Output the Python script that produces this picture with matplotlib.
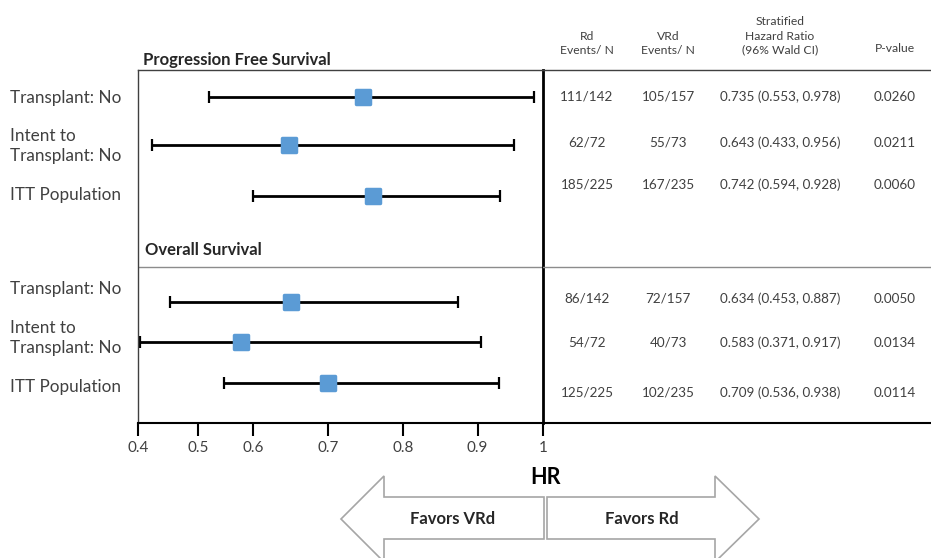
import numpy as np
import matplotlib
matplotlib.use("Agg")
import matplotlib.pyplot as plt
from matplotlib.markers import MarkerStyle
from matplotlib.patches import Polygon

plt.rcParams['font.family'] = ['Lato', 'DejaVu Sans']

# subgroups
row_labels = ['Transplant: No', 'Intent to\nTransplant: No', 'ITT Population',
              'Transplant: No', 'Intent to\nTransplant: No', 'ITT Population']

# hazard ratio and CI limits as drawn (PFS rows first, then OS rows)
hr = np.array([0.747, 0.647, 0.760, 0.650, 0.578, 0.699])
ci_lo = np.array([0.520, 0.423, 0.600, 0.453, 0.402, 0.547])
ci_hi = np.array([0.987, 0.956, 0.935, 0.874, 0.905, 0.933])

# table columns
rd_events = ['111/142', '62/72', '185/225', '86/142', '54/72', '125/225']
vrd_events = ['105/157', '55/73', '167/235', '72/157', '40/73', '102/235']
hr_ci = ['0.735 (0.553, 0.978)', '0.643 (0.433, 0.956)', '0.742 (0.594, 0.928)',
         '0.634 (0.453, 0.887)', '0.583 (0.371, 0.917)', '0.709 (0.536, 0.938)']
p_values = ['0.0260', '0.0211', '0.0060', '0.0050', '0.0134', '0.0114']

headers = ['Rd\nEvents/ N', 'VRd\nEvents/ N',
           'Stratified\nHazard Ratio\n(96% Wald CI)', 'P-value']

hr_ticks = [0.4, 0.5, 0.6, 0.7, 0.8, 0.9, 1.0]
tick_labels = ['0.4', '0.5', '0.6', '0.7', '0.8', '0.9', '1']
# the original axis is not evenly spaced
tick_pos = [0, 0.148, 0.284, 0.470, 0.654, 0.839, 1.0]

# layout (axes fractions)
bar_y = [0.923, 0.786, 0.644, 0.342, 0.228, 0.113]
label_y = [0.921, 0.785, 0.646, 0.380, 0.241, 0.102]
table_y = [0.9235, 0.793, 0.674, 0.351, 0.227, 0.085]
col_x = [0.114, 0.323, 0.611, 0.907]
sep_y = 0.442

text_col = '#404040'
blue = '#5B9BD5'

fig = plt.figure(figsize=(9.31, 5.58), dpi=100)

# arrows at the bottom
bg = fig.add_axes([0, 0, 1, 1])
bg.set_xlim(0, 931)
bg.set_ylim(558, 0)
bg.axis('off')
left_arrow = [(544, 497), (384, 497), (384, 476), (341, 519), (384, 562),
              (384, 539), (544, 539)]
right_arrow = [(547, 497), (715, 497), (715, 476), (759, 519), (715, 562),
               (715, 539), (547, 539)]
for pts in (left_arrow, right_arrow):
    bg.add_patch(Polygon(pts, closed=True, facecolor='white',
                         edgecolor='#A6A6A6', lw=1.2))
bg.text(453, 519, 'Favors VRd', ha='center', va='center', fontsize=12,
        fontweight='bold', color='#262626')
bg.text(642, 519, 'Favors Rd', ha='center', va='center', fontsize=12,
        fontweight='bold', color='#262626')
bg.text(545, 478, 'HR', ha='center', va='center', fontsize=15.5,
        fontweight='bold', color='black')

# forest plot
ax = fig.add_axes([0.1486, 0.2425, 0.4344, 0.6321])
ax.set_xscale('function', functions=(lambda x: np.interp(x, hr_ticks, tick_pos),
                                     lambda t: np.interp(t, tick_pos, hr_ticks)))
ax.set_xlim(0.4, 1.0)
ax.set_ylim(0, 1)

ax.errorbar(hr, bar_y, xerr=[hr - ci_lo, ci_hi - hr], fmt='none',
            ecolor='black', elinewidth=2, capsize=4.5, capthick=1.6, zorder=2)
ax.plot(hr, bar_y, linestyle='none', marker=MarkerStyle('s', joinstyle='round'),
        ms=10.5, mfc=blue, mec=blue, mew=2.5, zorder=3)

ax.set_xticks(hr_ticks)
ax.set_xticklabels(tick_labels)
ax.minorticks_off()
ax.set_yticks([])
ax.tick_params(axis='x', direction='out', length=9.5, width=1.5, pad=4,
               labelsize=11, labelcolor=text_col, color='black')

for s in ['left', 'top']:
    ax.spines[s].set_color('#404040')
    ax.spines[s].set_linewidth(1.0)
ax.spines['bottom'].set_linewidth(1.5)
ax.spines['right'].set_linewidth(2.0)
ax.axhline(sep_y, color='#8C8C8C', lw=1.0)

for lab, y in zip(row_labels, label_y):
    ax.text(-0.317, y, lab, transform=ax.transAxes, ha='left', va='center',
            fontsize=12.3, color=text_col, linespacing=1.3)

ax.text(0.012, 1.028, 'Progression Free Survival', transform=ax.transAxes,
        ha='left', va='center', fontsize=12, fontweight='bold', color='#262626')
ax.text(0.017, 0.490, 'Overall Survival', transform=ax.transAxes,
        ha='left', va='center', fontsize=12, fontweight='bold', color='#262626')

# table
tb = fig.add_axes([0.5829, 0.2425, 0.4171, 0.6321])
tb.patch.set_alpha(0)
tb.set_xlim(0, 1)
tb.set_ylim(0, 1)
tb.set_xticks([])
tb.set_yticks([])
tb.spines['left'].set_visible(False)
tb.spines['right'].set_visible(False)
tb.spines['top'].set_color('#404040')
tb.spines['top'].set_linewidth(1.0)
tb.spines['bottom'].set_linewidth(1.5)
tb.axhline(sep_y, color='#8C8C8C', lw=1.0)

header_y = [1.075, 1.075, 1.096, 1.062]
for x, h, hy in zip(col_x, headers, header_y):
    tb.text(x, hy, h, ha='center', va='center', fontsize=8.7, color=text_col,
            linespacing=1.35, clip_on=False)

for i, y in enumerate(table_y):
    for x, col in zip(col_x, (rd_events, vrd_events, hr_ci, p_values)):
        tb.text(x, y, col[i], ha='center', va='center', fontsize=9.7,
                color=text_col)

fig.savefig('out.png', dpi=100)
